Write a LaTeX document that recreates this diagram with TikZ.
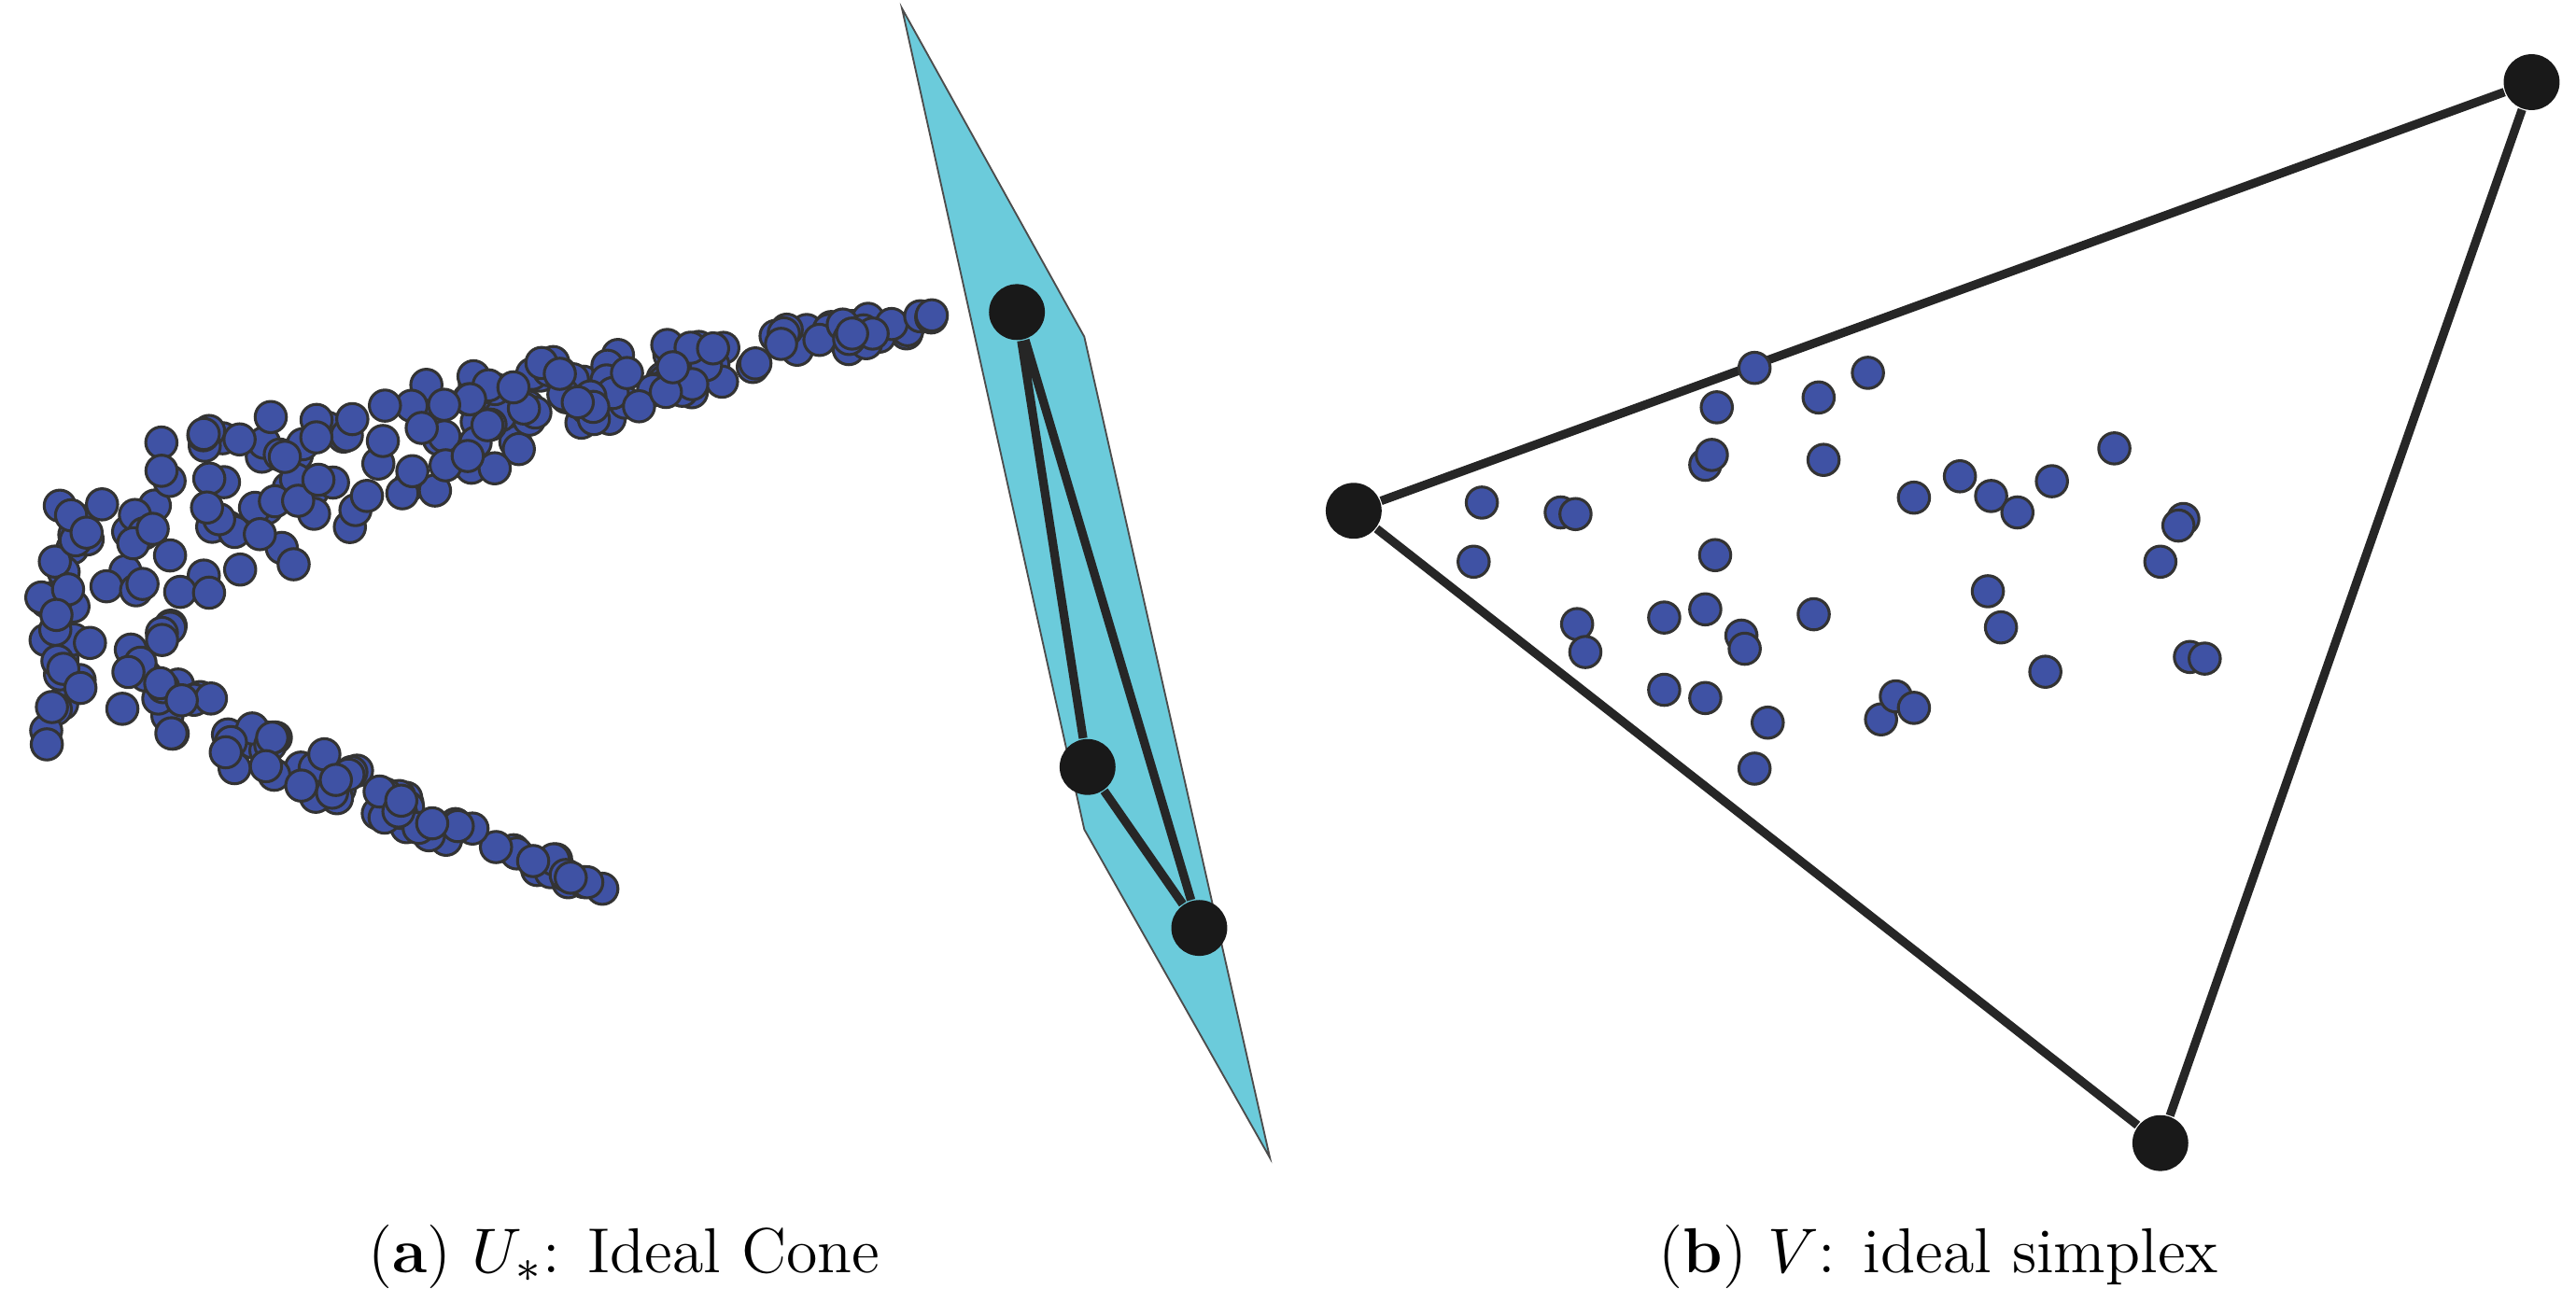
\documentclass[tikz,border=0pt]{standalone}
\begin{document}
\begin{tikzpicture}[x=0.01cm,y=-0.01cm,
  sd/.style={circle,fill=dotblue,draw=black!80,line width=0.5pt,inner sep=0pt,minimum size=0.19cm},
  bd/.style={circle,fill=black!90,inner sep=0pt,minimum size=0.34cm},
  edge/.style={line width=1.5pt,draw=black!85}]
\definecolor{dotblue}{HTML}{3F52A4}
\definecolor{plane}{HTML}{6BCBDB}
\useasboundingbox (0,0) rectangle (1568,793);
% left point cloud
\pgfmathsetseed{11}
\foreach \i in {1,...,210}{
  \pgfmathsetmacro{\u}{rnd^1.2}
  \pgfmathsetmacro{\px}{28+540*\u+6*rand}
  \pgfmathsetmacro{\py}{350-160*\u^0.35+rnd*(130*(1-\u)^1.4+12)}
  \node[sd] at (\px,\py) {};
}
\foreach \i in {1,...,80}{
  \pgfmathsetmacro{\u}{rnd}
  \pgfmathsetmacro{\px}{30+335*\u+6*rand}
  \pgfmathsetmacro{\py}{360+172*\u^0.8+rnd*(35*(1-\u)+12)}
  \node[sd] at (\px,\py) {};
}
% cone plane
\fill[plane,draw=black!70,line width=0.3pt] (549,5) -- (660,205) -- (773,705) -- (660,505) -- cycle;
\node[bd] (a1) at (619,190) {};
\node[bd] (a2) at (662,467) {};
\node[bd] (a3) at (730,565) {};
\draw[edge] (a1) -- (a2) -- (a3) -- (a1);
% simplex
\node[bd] (b1) at (824,311) {};
\node[bd] (b2) at (1541,50) {};
\node[bd] (b3) at (1315,696) {};
\draw[edge] (b1) -- (b2) -- (b3) -- (b1);
\foreach \p in {(1068,224),(1107,242),(1137,227),(1045,248),(1038,283),(1042,277),(1110,280),(902,306),(950,312),(959,313),(1165,303),(1193,290),(1212,302),(1228,312),(1249,293),(1287,273),(1329,316),(1326,320),(1315,342),(897,342),(1044,338),(960,380),(965,397),(1013,376),(1038,371),(1060,387),(1062,395),(1104,374),(1210,360),(1218,382),(1245,409),(1333,400),(1342,401),(1013,420),(1038,425),(1076,440),(1068,468),(1145,438),(1154,424),(1165,431)}
  \node[sd] at \p {};
\node[font=\fontsize{11}{13}\selectfont] (ca) at (380,765) {(\textbf{a}) $U_*$: Ideal Cone};
\node[font=\fontsize{11}{13}\selectfont] (cb) at (1180,765) {(\textbf{b}) $V$: ideal simplex};
\end{tikzpicture}
\end{document}
